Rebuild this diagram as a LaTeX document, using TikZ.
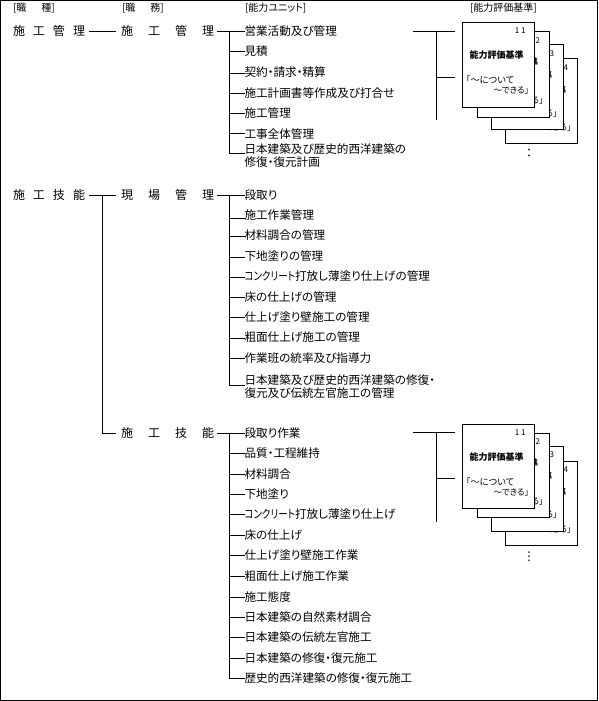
\documentclass[tikz,border=0pt]{standalone}
\usepackage{fontspec}
\setmainfont[RawFeature=+palt]{Noto Sans CJK JP}
\newfontfamily\symfont{DejaVu Sans}
\newcommand{\fsz}[1]{\fontsize{#1}{#1}\selectfont}
\newcommand{\fszb}{\fontsize{11.6}{13}\selectfont}
\newcommand{\narrowkana}[1]{\scalebox{0.82}[1]{#1}}
\tikzset{
  base/.style={inner sep=0pt,outer sep=0pt,anchor=west,text height=9.5pt,text depth=1.5pt},
  job/.style={base,font=\fsz{12}},
  itemtext/.style={base,font=\fsz{11.6}},
  tworow/.style={inner sep=0pt,outer sep=0pt,anchor=west},
  head/.style={base,font=\fsz{10}},
  sheet/.style={draw=black,line width=1pt,fill=white,inner sep=0pt,outer sep=0pt,anchor=north west},
  small/.style={inner sep=0pt,outer sep=0pt,font=\fsz{8.5}},
  conn/.style={draw=black,line width=1pt},
}
% row item: name, trunk, text y, branch y, text
\newcommand{\rowitem}[5]{%
  \node[itemtext] (#1) at (244.5,#3) {#5};
  \draw[conn] (#2 |- 0,#4) -- (#1.west |- 0,#4);
}
\newcommand{\rowtwo}[6]{%
  \node[tworow] (#1) at (244.5,#3) {\fszb\begin{tabular}{@{}l@{}}#5\\#6\end{tabular}};
  \draw[conn] (#2 |- 0,#4) -- (#1.west |- 0,#4);
}
% sheet: name, left, top, bottom, number, title offset
\newcommand{\sheetbox}[6]{%
  \node[sheet,minimum width=72pt,minimum height={#4-#3}] (#1) at (#2,#3) {};
  \node[small,anchor=east,font=\fsz{8}] (#1n) at ([xshift=-9pt,yshift=-8.5pt]#1.north east) {1 #5};
  \node[small,anchor=center,font=\fsz{9}\bfseries] (#1t) at ([xshift=34pt,yshift=-#6pt]#1.north west) {能力評価基準};
  \node[small,anchor=west,font=\fsz{9.2}] (#1a) at ([xshift=3.5pt,yshift=-57pt]#1.north west) {「～について};
  \node[small,anchor=east] (#1b) at ([xshift=-5.5pt,yshift=-68pt]#1.north east) {～できる」};
}
\begin{document}
\begin{tikzpicture}[x=1pt,y=-1pt]
\useasboundingbox (0,0) rectangle (598,701);
\node[draw=black,line width=1pt,inner sep=0pt,outer sep=0pt,anchor=north west,minimum width=596.5pt,minimum height=699.5pt] (frame) at (0.5,0.5) {};

% headers
\node[head] (h1) at (13,8) {[職\hspace{15pt}種]};
\node[head] (h2) at (122,8) {[職\hspace{15pt}務]};
\node[head] (h3) at (245,8) {[能力ユニット]};
\node[head] (h4) at (470,8) {[能力評価基準]};

% jobs
\node[job] (j11) at (13,32) {施\hspace{8pt}工\hspace{8pt}管\hspace{8pt}理};
\node[job] (j12) at (121,32) {施\hspace{15pt}工\hspace{15pt}管\hspace{15pt}理};
\node[job] (j21) at (13,195) {施\hspace{8pt}工\hspace{8pt}技\hspace{8pt}能};
\node[job] (j22) at (121,195) {現\hspace{15pt}場\hspace{15pt}管\hspace{15pt}理};
\node[job] (j23) at (121,433) {施\hspace{15pt}工\hspace{15pt}技\hspace{15pt}能};

\draw[conn,shorten <=4pt,shorten >=5.5pt] (j11.east) -- (j12.west);
\draw[conn,shorten <=4pt,shorten >=5.5pt] (j21.east) -- (j22.west);
\coordinate (t2) at (102,195);
\draw[conn,shorten >=5.5pt] (t2) |- (j23.west);

% block 1
\coordinate (t1) at (229,32);
\coordinate (t1e) at (229,153);
\draw[conn] (t1) -- (t1e);
\rowitem{a1}{t1}{32}{32}{営業活動及び管理}
\rowitem{a2}{t1}{52}{52}{見積}
\rowitem{a3}{t1}{73}{73}{契約・請求・精算}
\rowitem{a4}{t1}{93}{93}{施工計画書等作成及び打合せ}
\rowitem{a5}{t1}{113}{113}{施工管理}
\rowitem{a6}{t1}{134}{133}{工事全体管理}
\rowtwo{a7}{t1}{157}{153}{日本建築及び歴史的西洋建築の}{修復・復元計画}
\draw[conn,shorten <=3pt] (j12.east) -- (a1.west);

% block 2
\coordinate (t3) at (229,195);
\coordinate (t3e) at (229,385);
\draw[conn] (t3) -- (t3e);
\rowitem{b1}{t3}{195}{195}{段取り}
\rowitem{b2}{t3}{215}{218}{施工作業管理}
\rowitem{b3}{t3}{235}{236}{材料調合の管理}
\rowitem{b4}{t3}{256}{257}{下地塗りの管理}
\rowitem{b5}{t3}{276}{277}{\narrowkana{コンクリート}打放し薄塗り仕上げの管理}
\rowitem{b6}{t3}{297}{297}{床の仕上げの管理}
\rowitem{b7}{t3}{317}{317}{仕上げ塗り壁施工の管理}
\rowitem{b8}{t3}{337}{338}{粗面仕上げ施工の管理}
\rowitem{b9}{t3}{358}{358}{作業班の統率及び指導力}
\rowtwo{b10}{t3}{388}{385}{日本建築及び歴史的西洋建築の修復・}{復元及び伝統左官施工の管理}
\draw[conn,shorten <=3pt] (j22.east) -- (b1.west);

% block 3
\coordinate (t4) at (229,433);
\coordinate (t4e) at (229,678);
\draw[conn] (t4) -- (t4e);
\rowitem{c1}{t4}{433}{433}{段取り作業}
\rowitem{c2}{t4}{453}{453}{品質・工程維持}
\rowitem{c3}{t4}{474}{474}{材料調合}
\rowitem{c4}{t4}{494}{494}{下地塗り}
\rowitem{c5}{t4}{514}{514}{\narrowkana{コンクリート}打放し薄塗り仕上げ}
\rowitem{c6}{t4}{535}{535}{床の仕上げ}
\rowitem{c7}{t4}{555}{555}{仕上げ塗り壁施工作業}
\rowitem{c8}{t4}{576}{576}{粗面仕上げ施工作業}
\rowitem{c9}{t4}{597}{597}{施工態度}
\rowitem{c10}{t4}{617}{617}{日本建築の自然素材調合}
\rowitem{c11}{t4}{637}{637}{日本建築の伝統左官施工}
\rowitem{c12}{t4}{658}{658}{日本建築の修復・復元施工}
\rowitem{c13}{t4}{678}{678}{歴史的西洋建築の修復・復元施工}
\draw[conn,shorten <=3pt] (j23.east) -- (c1.west);

% sheets, upper stack
\sheetbox{p4}{505}{59}{143}{4}{31}
\sheetbox{p3}{491}{45}{129}{3}{30}
\sheetbox{p2}{477}{32}{117}{2}{30}
\sheetbox{p1}{462.5}{22.5}{107}{1}{33}
\coordinate (s1) at (413,32);
\coordinate (s1t) at (436,32);
\coordinate (s1e) at (436,120);
\coordinate (s1m) at (436,77);
\draw[conn,shorten >=8pt] (s1) -- (p1.west |- s1);
\draw[conn] (s1t) -- (s1e);
\draw[conn,shorten >=8pt] (s1m) -- (p1.west |- s1m);
\node[inner sep=0pt,font=\fsz{12}] (d1) at (529,153) {：};

% sheets, lower stack
\sheetbox{q4}{505}{461}{545}{4}{31}
\sheetbox{q3}{491}{446}{531}{3}{30}
\sheetbox{q2}{477}{433}{517}{2}{30}
\sheetbox{q1}{462.5}{424.5}{508}{1}{33}
\coordinate (s2) at (413,432);
\coordinate (s2t) at (436,432);
\coordinate (s2e) at (436,522);
\coordinate (s2m) at (436,478);
\draw[conn,shorten >=8pt] (s2) -- (q1.west |- s2);
\draw[conn] (s2t) -- (s2e);
\draw[conn,shorten >=8pt] (s2m) -- (q1.west |- s2m);
\node[inner sep=0pt,font=\symfont\fsz{12}] (d2) at (529,557) {⋮};
\end{tikzpicture}
\end{document}
